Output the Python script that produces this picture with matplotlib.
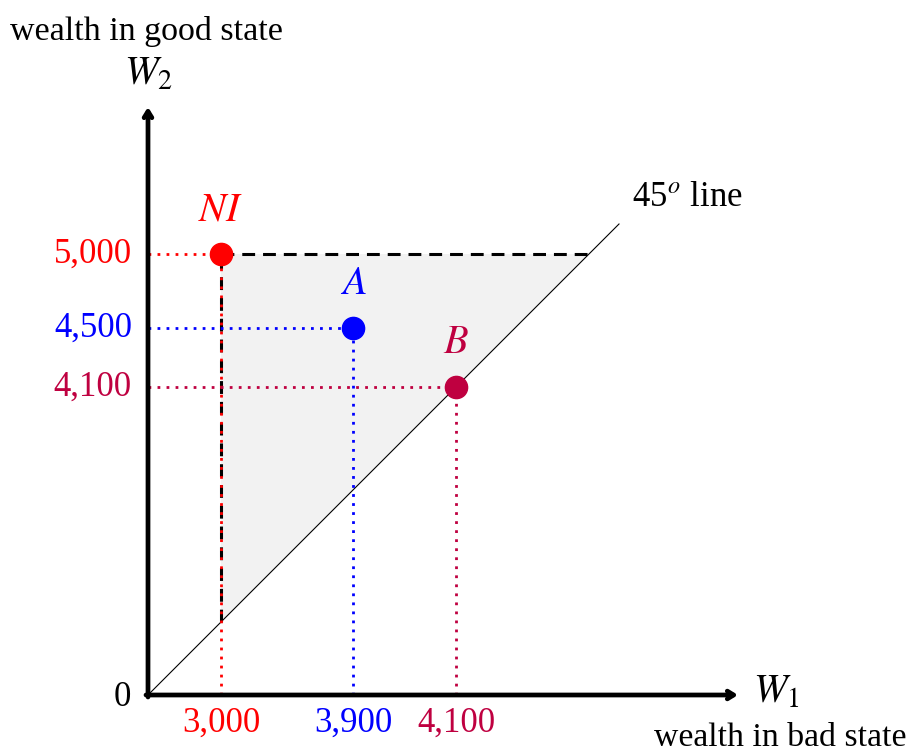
import matplotlib.pyplot as plt
from matplotlib.patches import Polygon

plt.rcParams['font.family'] = ['Liberation Serif', 'DejaVu Serif']
plt.rcParams['mathtext.fontset'] = 'stix'

# bundles: no insurance, partial insurance, full insurance
names = ['NI', 'A', 'B']
w1_values = [3000, 3900, 4100]   # wealth in bad state
w2_values = [5000, 4500, 4100]   # wealth in good state
colors = ['#ff0000', '#0000ff', '#bf0040']

# schematic placement of the bundles on the diagram (not to scale)
w1_pos = [0.73, 2.05, 3.08]
w2_pos = [4.41, 3.67, 3.08]
diag_end = 4.71     # end of the 45 degree line
x_end, y_end = 5.90, 5.88

fig = plt.figure(figsize=(9.13, 7.54), dpi=100)
ax = fig.add_axes([0, 0, 1, 1])
ax.set_xlim(-1.48, 7.65)
ax.set_ylim(-0.59, 6.95)
ax.axis('off')

fs = 25

# feasible region between NI and the 45 degree line
top = w2_pos[0]
shade = Polygon([(w1_pos[0], top), (top, top), (w1_pos[0], w1_pos[0])],
                closed=True, facecolor='#f2f2f2', edgecolor='none', zorder=0)
ax.add_patch(shade)

# 45 degree line
ax.plot([0, diag_end], [0, diag_end], color='black', lw=0.8, zorder=2)
ax.text(diag_end + 0.13, diag_end + 0.26, r'45$^{o}$ line', fontsize=fs,
        ha='left', va='center')

# boundary of the region
ax.plot([w1_pos[0], top], [top, top], color='black', lw=2.2,
        dashes=(4.2, 2.6), zorder=3)
ax.plot([w1_pos[0], w1_pos[0]], [w1_pos[0], top], color='black', lw=2.2,
        dashes=(4.2, 2.6), zorder=3)

# guide lines, points, labels
for name, x, y, xv, yv, c in zip(names, w1_pos, w2_pos, w1_values, w2_values, colors):
    ax.plot([0, x], [y, y], color=c, lw=2.0, ls=(0, (1, 2.25)), zorder=4)
    ax.plot([x, x], [0, y], color=c, lw=2.0, ls=(0, (1, 2.25)), zorder=4)
    ax.plot(x, y, 'o', color=c, ms=16, zorder=5)
    ax.text(x, y + 0.43, '$' + name + '$', color=c, fontsize=fs + 4,
            ha='center', va='center')
    ax.text(-0.16, y, f'{yv:,}', color=c, fontsize=fs, ha='right', va='center')
    ax.text(x, -0.28, f'{xv:,}', color=c, fontsize=fs, ha='center', va='center')

# axes with arrow heads
arrow = dict(arrowstyle='->,head_length=0.45,head_width=0.28', lw=3.4,
             color='black', shrinkA=0, shrinkB=0)
ax.annotate('', xy=(x_end, 0), xytext=(-0.02, 0), arrowprops=arrow, zorder=6)
ax.annotate('', xy=(0, y_end), xytext=(0, -0.02), arrowprops=arrow, zorder=6)

ax.text(-0.26, -0.02, '0', fontsize=fs, ha='center', va='center')
ax.text(x_end + 0.15, 0.02, '$W_1$', fontsize=fs + 4, ha='left', va='center')
ax.text(7.58, -0.51, 'wealth in bad state', fontsize=fs - 0.7, ha='right', va='baseline')
ax.text(0, 6.2, '$W_2$', fontsize=fs + 4, ha='center', va='center')
ax.text(-1.38, 6.63, 'wealth in good state', fontsize=fs - 0.5, ha='left', va='center')

fig.savefig('out.png', dpi=100)
